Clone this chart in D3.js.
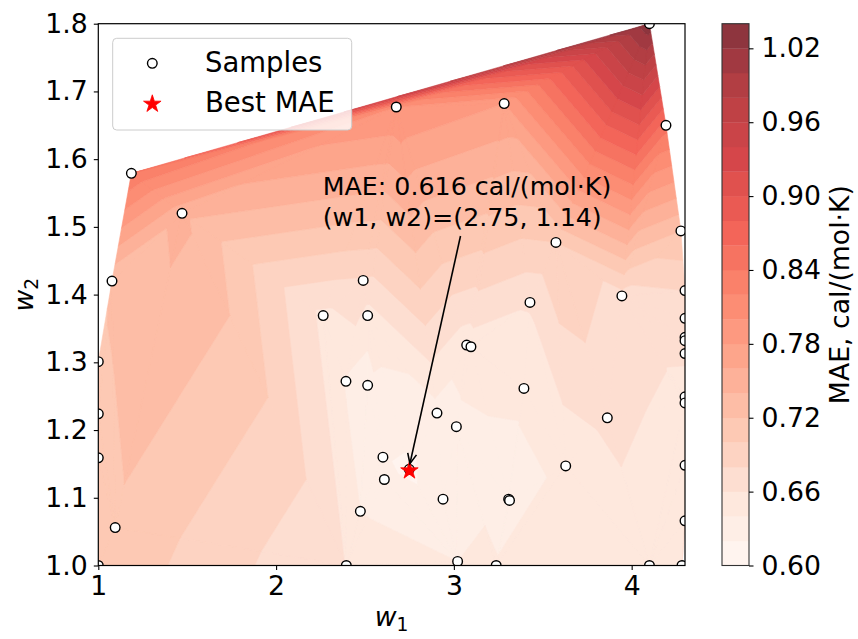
<!DOCTYPE html>
<html>
<head>
<meta charset="utf-8">
<script src="https://cdn.jsdelivr.net/npm/d3@7"></script>
<style>
  body { margin: 0; background: #fff; }
  text { font-family: "DejaVu Sans", sans-serif; fill: #000; }
</style>
</head>
<body>
<svg id="chart" width="858" height="639"></svg>
<script>
// sample points (w1, w2) and their MAE
var sampleW1 = [1.000, 1.000, 1.000, 1.000, 1.077, 1.095, 1.186, 1.471, 2.265, 2.393,
                2.395, 2.474, 2.490, 2.515, 2.515, 2.601, 2.609, 2.676, 2.749, 2.905,
                2.939, 3.014, 3.021, 3.072, 3.096, 3.238, 3.283, 3.308, 3.313, 3.394,
                3.428, 3.574, 3.629, 3.863, 3.945, 4.100, 4.100, 4.193, 4.277, 4.300,
                4.300, 4.300, 4.300, 4.300, 4.300, 4.300, 4.300, 4.300, 4.283];
var sampleW2 = [1.000, 1.159, 1.224, 1.301, 1.420, 1.056, 1.579, 1.520, 1.369, 1.272,
                1.000, 1.080, 1.421, 1.369, 1.266, 1.160, 1.127, 1.677, 1.142, 1.225,
                1.098, 1.205, 1.006, 1.3255, 1.323, 1.000, 1.682, 1.098, 1.096, 1.2615,
                1.3885, 1.477, 1.147, 1.218, 1.398, 1.000, 1.800, 1.650, 1.494, 1.406,
                1.365, 1.337, 1.332, 1.313, 1.249, 1.240, 1.148, 1.066, 1.000];
var sampleMAE = [0.716, 0.716, 0.716, 0.716, 0.722, 0.716, 0.840, 0.745, 0.655, 0.638,
                 0.659, 0.640, 0.678, 0.652, 0.628, 0.622, 0.625, 0.800, 0.616, 0.632,
                 0.632, 0.635, 0.640, 0.648, 0.650, 0.642, 0.780, 0.628, 0.630, 0.645,
                 0.662, 0.700, 0.645, 0.665, 0.672, 0.650, 1.035, 0.850, 0.720, 0.680,
                 0.672, 0.665, 0.665, 0.662, 0.655, 0.655, 0.652, 0.660, 0.660];

var best = {w1: 2.75, w2: 1.14, mae: 0.616};

var levels = [0.60, 0.62, 0.64, 0.66, 0.68, 0.70, 0.72, 0.74, 0.76, 0.78, 0.80, 0.82,
              0.84, 0.86, 0.88, 0.90, 0.92, 0.94, 0.96, 0.98, 1.00, 1.02, 1.04];
var xTicks = [1, 2, 3, 4];
var yTicks = [1.0, 1.1, 1.2, 1.3, 1.4, 1.5, 1.6, 1.7, 1.8];
var cbTicks = [0.60, 0.66, 0.72, 0.78, 0.84, 0.90, 0.96, 1.02];

// layout
var plotL = 98.3, plotR = 685, plotT = 23.7, plotB = 565.5;
var cbL = 722, cbR = 749, cbT = 23.7, cbB = 565.5;

var svg = d3.select("#chart");

var x = d3.scaleLinear().domain([1.0, 4.30]).range([plotL, plotR]);
var y = d3.scaleLinear().domain([1.0, 1.8]).range([plotB, plotT]);

// Reds colormap (linear over the 9 brewer stops) with alpha 0.8 on white
var reds = d3.scaleLinear()
  .domain(d3.range(9).map(function(i){ return i / 8; }))
  .range(d3.schemeReds[9])
  .interpolate(d3.interpolateRgb);
var alpha = 0.8;
function bandColor(i){
  var mid = (levels[i] + levels[i+1]) / 2;
  var t = (mid - levels[0]) / (levels[levels.length-1] - levels[0]);
  var c = d3.rgb(reds(t));
  return d3.rgb(c.r*alpha + 255*(1-alpha), c.g*alpha + 255*(1-alpha), c.b*alpha + 255*(1-alpha)).formatHex();
}

svg.append("defs").append("clipPath").attr("id", "plotclip")
  .append("rect").attr("x", plotL).attr("y", plotT)
  .attr("width", plotR - plotL).attr("height", plotB - plotT);

// ---- tricontourf: delaunay on data coords, clip each triangle to each band
var pts = sampleW1.map(function(d, i){ return {w1: d, w2: sampleW2[i], v: sampleMAE[i]}; });
var delaunay = d3.Delaunay.from(pts, function(d){ return d.w1; }, function(d){ return d.w2; });
var tris = [];
for (var k = 0; k < delaunay.triangles.length; k += 3) {
  tris.push([pts[delaunay.triangles[k]], pts[delaunay.triangles[k+1]], pts[delaunay.triangles[k+2]]]);
}

function lerp(a, b, lev){
  var t = (lev - a.v) / (b.v - a.v);
  return {w1: a.w1 + t*(b.w1 - a.w1), w2: a.w2 + t*(b.w2 - a.w2), v: lev};
}
// keep the part of poly where sign*(v - lev) >= 0
function clipPoly(poly, lev, sign){
  var out = [];
  for (var i = 0; i < poly.length; i++) {
    var a = poly[i], b = poly[(i+1) % poly.length];
    var ina = sign*(a.v - lev) >= 0, inb = sign*(b.v - lev) >= 0;
    if (ina) out.push(a);
    if (ina != inb) out.push(lerp(a, b, lev));
  }
  return out;
}

var gContour = svg.append("g").attr("clip-path", "url(#plotclip)");
for (var i = 0; i < levels.length - 1; i++) {
  var col = bandColor(i);
  var pathStr = "";
  tris.forEach(function(tri){
    var p = clipPoly(tri, levels[i], 1);
    if (p.length < 3) return;
    p = clipPoly(p, levels[i+1], -1);
    if (p.length < 3) return;
    pathStr += "M" + p.map(function(q){ return x(q.w1).toFixed(2) + "," + y(q.w2).toFixed(2); }).join("L") + "Z";
  });
  if (pathStr)
    gContour.append("path").attr("d", pathStr)
      .attr("fill", col).attr("stroke", col).attr("stroke-width", 0.6)
      .attr("stroke-linejoin", "round");
}

// ---- samples
var gPts = svg.append("g").attr("clip-path", "url(#plotclip)");
gPts.selectAll("circle").data(pts).enter().append("circle")
  .attr("cx", function(d){ return x(d.w1); })
  .attr("cy", function(d){ return y(d.w2); })
  .attr("r", 4.8)
  .attr("fill", "#fff").attr("stroke", "#000").attr("stroke-width", 1.4);

var star = d3.symbol().type(d3.symbolStar).size(95);
gPts.append("path").attr("d", star())
  .attr("transform", "translate(" + x(best.w1) + "," + y(best.w2) + ")")
  .attr("fill", "red").attr("stroke", "red").attr("stroke-width", 0.8);

// ---- axes frame
svg.append("rect").attr("x", plotL).attr("y", plotT)
  .attr("width", plotR - plotL).attr("height", plotB - plotT)
  .attr("fill", "none").attr("stroke", "#000").attr("stroke-width", 1.2);

var xAxis = svg.append("g").attr("transform", "translate(0," + plotB + ")")
  .call(d3.axisBottom(x).tickValues(xTicks).tickFormat(d3.format("d")).tickSize(4.5).tickPadding(6));
var yAxis = svg.append("g").attr("transform", "translate(" + plotL + ",0)")
  .call(d3.axisLeft(y).tickValues(yTicks).tickFormat(d3.format(".1f")).tickSize(4.5).tickPadding(6));
[xAxis, yAxis].forEach(function(ax){
  ax.select(".domain").remove();
  ax.selectAll("line").attr("stroke", "#000").attr("stroke-width", 1.1);
  ax.selectAll("text").style("font-family", "DejaVu Sans").style("font-size", "26.7px");
});

svg.append("text").attr("x", (plotL + plotR)/2).attr("y", 626)
  .attr("text-anchor", "middle").style("font-size", "26.7px")
  .html('<tspan font-style="italic">w</tspan><tspan font-size="18.7px" dy="5">1</tspan>');
svg.append("text").attr("transform", "translate(33," + (plotT + plotB)/2 + ") rotate(-90)")
  .attr("text-anchor", "middle").style("font-size", "26.7px")
  .html('<tspan font-style="italic">w</tspan><tspan font-size="18.7px" dy="5">2</tspan>');

// ---- annotation
var ann = svg.append("text").style("font-size", "25.3px");
ann.append("tspan").attr("x", 322.7).attr("y", 195).text("MAE: " + best.mae.toFixed(3) + " cal/(mol\u00b7K)");
ann.append("tspan").attr("x", 322.7).attr("y", 225.5).text("(w1, w2)=(" + best.w1.toFixed(2) + ", " + best.w2.toFixed(2) + ")");

var ax0 = 460.5, ay0 = 236, ax1 = x(best.w1) + 0.5, ay1 = y(best.w2) - 7;
var ang = Math.atan2(ay1 - ay0, ax1 - ax0);
svg.append("line").attr("x1", ax0).attr("y1", ay0).attr("x2", ax1).attr("y2", ay1)
  .attr("stroke", "#000").attr("stroke-width", 1.6);
var hl = 11, ha = 0.42;
svg.append("path")
  .attr("d", "M" + (ax1 - hl*Math.cos(ang - ha)) + "," + (ay1 - hl*Math.sin(ang - ha)) +
             "L" + ax1 + "," + ay1 +
             "L" + (ax1 - hl*Math.cos(ang + ha)) + "," + (ay1 - hl*Math.sin(ang + ha)))
  .attr("fill", "none").attr("stroke", "#000").attr("stroke-width", 1.6);

// ---- legend
var leg = svg.append("g");
leg.append("rect").attr("x", 112.7).attr("y", 38.3).attr("width", 239).attr("height", 91.7)
  .attr("rx", 4).attr("fill", "#fff").attr("fill-opacity", 0.8)
  .attr("stroke", "#cccccc").attr("stroke-width", 1);
leg.append("circle").attr("cx", 152.3).attr("cy", 63.3).attr("r", 4.8)
  .attr("fill", "#fff").attr("stroke", "#000").attr("stroke-width", 1.4);
leg.append("path").attr("d", star())
  .attr("transform", "translate(152.3,104)").attr("fill", "red").attr("stroke", "red").attr("stroke-width", 0.8);
leg.append("text").attr("x", 205).attr("y", 71.7).style("font-size", "27.5px").text("Samples");
leg.append("text").attr("x", 205).attr("y", 111.7).style("font-size", "27.5px").text("Best MAE");

// ---- colorbar
var cy = d3.scaleLinear().domain([levels[0], levels[levels.length-1]]).range([cbB, cbT]);
var gcb = svg.append("g");
for (var j = 0; j < levels.length - 1; j++) {
  gcb.append("rect").attr("x", cbL).attr("width", cbR - cbL)
    .attr("y", cy(levels[j+1])).attr("height", cy(levels[j]) - cy(levels[j+1]) + 0.3)
    .attr("fill", bandColor(j));
}
gcb.append("rect").attr("x", cbL).attr("y", cbT).attr("width", cbR - cbL).attr("height", cbB - cbT)
  .attr("fill", "none").attr("stroke", "#333").attr("stroke-width", 1.1);
var cbAxis = svg.append("g").attr("transform", "translate(" + cbR + ",0)")
  .call(d3.axisRight(cy).tickValues(cbTicks).tickFormat(d3.format(".2f")).tickSize(4.5).tickPadding(8));
cbAxis.select(".domain").remove();
cbAxis.selectAll("line").attr("stroke", "#000").attr("stroke-width", 1.1);
cbAxis.selectAll("text").style("font-family", "DejaVu Sans").style("font-size", "26.7px");

svg.append("text").attr("transform", "translate(849," + (cbT + cbB)/2 + ") rotate(-90)")
  .attr("text-anchor", "middle").style("font-size", "26.7px").text("MAE, cal/(mol\u00b7K)");
</script>
</body>
</html>
